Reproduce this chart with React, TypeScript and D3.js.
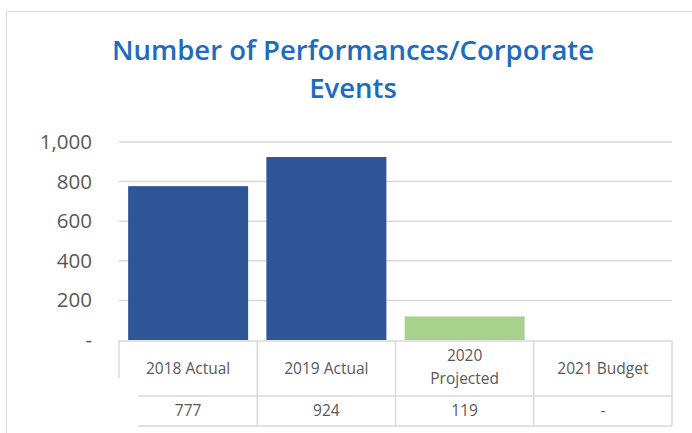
import React from "react";
import { scaleBand, scaleLinear, format } from "d3";

// chart data
const categories = ["2018 Actual", "2019 Actual", "2020 Projected", "2021 Budget"];
const headerLines = [["2018 Actual"], ["2019 Actual"], ["2020", "Projected"], ["2021 Budget"]];
const values: (number | null)[] = [777, 924, 119, null];
const barColors = ["#2F5597", "#2F5597", "#A9D18E", "#A9D18E"];
const yTicks = [0, 200, 400, 600, 800, 1000];
const titleLines = ["Number of Performances/Corporate", "Events"];

const W = 692;
const H = 433;
const plotLeft = 119;
const plotRight = 672;
const plotTop = 142;
const plotBottom = 340;
const rowSplit = 396;
const tableBottom = 426;
const grid = "#D9D9D9";
const textGray = "#595959";
const font = "'Open Sans', 'Noto Sans', sans-serif";

function App() {
  const x = scaleBand<string>()
    .domain(categories)
    .range([plotLeft, plotRight])
    .paddingInner(0.132)
    .paddingOuter(0.066);
  const y = scaleLinear().domain([0, 1000]).range([plotBottom, plotTop]);
  const fmt = format(",");
  const step = x.step();
  const colLeft = (i: number) => plotLeft + i * step;

  return (
    <div style={{ position: "absolute", left: 0, top: 0 }}>
      <svg width={W} height={H} style={{ display: "block", background: "#fff" }}>
        {/* outer frame */}
        <line x1={6.5} x2={W} y1={11.5} y2={11.5} stroke={grid} />
        <line x1={6.5} x2={6.5} y1={11.5} y2={H} stroke={grid} />

        {/* title */}
        {titleLines.map((t, i) => (
          <text
            key={t}
            x={353}
            y={60 + i * 38}
            textAnchor="middle"
            fontFamily={font}
            fontWeight={600}
            fontSize={27.5}
            fill="#1D6CBD"
          >
            {t}
          </text>
        ))}

        {/* gridlines + y labels */}
        {yTicks.map((t) => (
          <g key={t}>
            {t > 0 && (
              <line x1={plotLeft} x2={plotRight} y1={y(t)} y2={y(t)} stroke={grid} strokeWidth={1.5} />
            )}
            <text
              x={92}
              y={y(t) + 7}
              textAnchor="end"
              fontFamily={font}
              fontSize={20.5}
              fill={textGray}
            >
              {t === 0 ? "-" : fmt(t)}
            </text>
          </g>
        ))}

        {/* bars */}
        {categories.map((c, i) =>
          values[i] == null ? null : (
            <rect
              key={c}
              x={x(c)}
              y={y(values[i] as number)}
              width={x.bandwidth()}
              height={y(0) - y(values[i] as number)}
              fill={barColors[i]}
            />
          )
        )}

        {/* data table */}
        <g stroke={grid} strokeWidth={1.5}>
          <line x1={plotLeft} x2={plotRight} y1={plotBottom + 1} y2={plotBottom + 1} />
          <line x1={138} x2={plotRight} y1={rowSplit} y2={rowSplit} />
          <line x1={138} x2={plotRight} y1={tableBottom} y2={tableBottom} />
          <line x1={plotLeft} x2={plotLeft} y1={plotBottom + 1} y2={378} />
          {categories.map((c, i) => (
            <line key={c} x1={colLeft(i + 1)} x2={colLeft(i + 1)} y1={plotBottom + 1} y2={tableBottom} />
          ))}
        </g>
        {categories.map((c, i) => {
          const cx = colLeft(i) + step / 2;
          const lines = headerLines[i];
          return (
            <g key={c} fontFamily={font} fontSize={15.5} fill={textGray} textAnchor="middle">
              {lines.map((l, j) => (
                <text key={l} x={cx} y={lines.length === 1 ? 374 : 361 + j * 23}>
                  {l}
                </text>
              ))}
              <text x={cx} y={416}>
                {values[i] == null ? "-" : fmt(values[i] as number)}
              </text>
            </g>
          );
        })}
      </svg>
    </div>
  );
}

export default App;
